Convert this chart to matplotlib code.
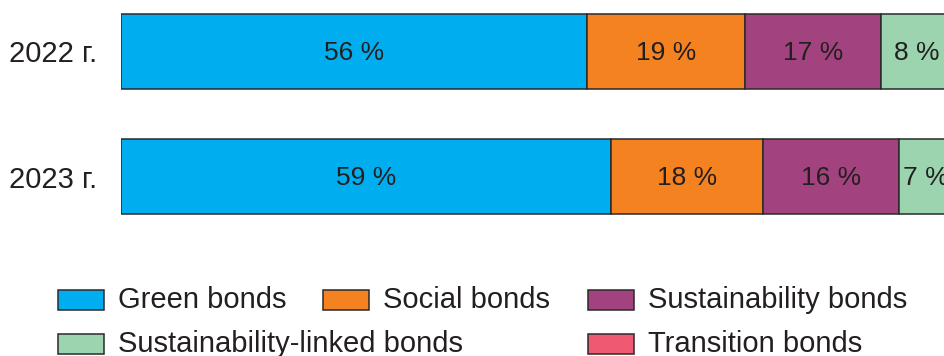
import matplotlib
matplotlib.use("Agg")
import matplotlib.pyplot as plt
from matplotlib.patches import Rectangle

plt.rcParams['font.family'] = ['Liberation Sans', 'DejaVu Sans']

years = ["2022 г.", "2023 г."]
categories = ["Green bonds", "Social bonds", "Sustainability bonds",
              "Sustainability-linked bonds", "Transition bonds"]
colors = ["#00AEEF", "#F58220", "#A2437F", "#9BD4AE", "#EF5A72"]

# shares (%) per category, for 2022 and 2023
green = [56.1, 59.0]
social = [19.0, 18.2]
sustainability = [16.4, 16.4]
linked = [8.5, 6.5]
transition = [0.3, 0.4]
series = [green, social, sustainability, linked, transition]

# printed labels
green_lbl = ["56 %", "59 %"]
social_lbl = ["19 %", "18 %"]
sust_lbl = ["17 %", "16 %"]
linked_lbl = ["8 %", "7 %"]
transition_lbl = ["", ""]
labels = [green_lbl, social_lbl, sust_lbl, linked_lbl, transition_lbl]

W, H = 944, 356
fig = plt.figure(figsize=(W / 100, H / 100), dpi=100)

ax_left, ax_right = 121, 944
ax_top, ax_bot = 0, 250
ax = fig.add_axes([ax_left / W, 1 - ax_bot / H, (ax_right - ax_left) / W, (ax_bot - ax_top) / H])

ypos = [0, 1]
left = [0.0, 0.0]
for vals, col, lbls in zip(series, colors, labels):
    bars = ax.barh(ypos, vals, left=left, height=0.6, color=col,
                   edgecolor="#2a2a2a", linewidth=1.1)
    for i, (v, l) in enumerate(zip(vals, lbls)):
        if l:
            ax.text(left[i] + v / 2, ypos[i] + 0.01, l, ha="center", va="center",
                    fontsize=19, color="#231f20", clip_on=False)
    left = [a + b for a, b in zip(left, vals)]

px_per = 8.31
ax.set_xlim(0, (ax_right - ax_left) / px_per)
top = -51.5 / 125
ax.set_ylim(top + 2, top)
ax.set_yticks(ypos)
ax.set_yticklabels(years, fontsize=21, color="#231f20")
ax.tick_params(axis="y", length=0, pad=17)
ax.set_xticks([])
for s in ax.spines.values():
    s.set_visible(False)

# legend (manual grid)
leg_pos = [(58, 300), (323, 300), (588, 300), (58, 344), (588, 344)]
pw, ph = 46, 20
for (x, y), cat, col in zip(leg_pos, categories, colors):
    fig.patches.append(Rectangle((x / W, 1 - (y + ph / 2) / H), pw / W, ph / H,
                                 transform=fig.transFigure, facecolor=col,
                                 edgecolor="#2a2a2a", linewidth=1.1))
    fig.text((x + 60) / W, 1 - y / H, cat, ha="left", va="center",
             fontsize=21, color="#231f20")

fig.savefig("out.png", dpi=100)
